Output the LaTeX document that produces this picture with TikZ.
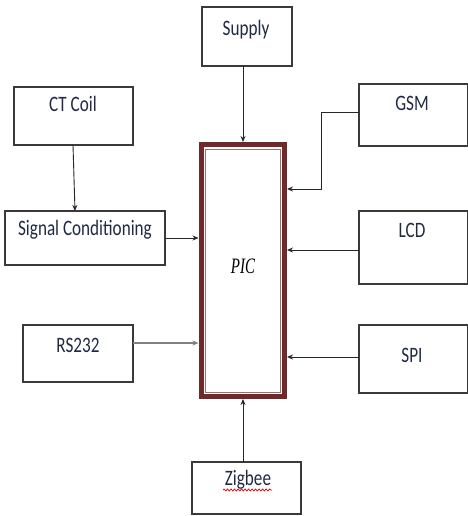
\documentclass[tikz,border=0pt]{standalone}
\usepackage{fontspec}
\setmainfont{Carlito}
\newfontfamily\picfont{Liberation Serif}
\usetikzlibrary{arrows.meta,decorations.pathmorphing}
\definecolor{boxline}{HTML}{3A3A3A}
\definecolor{txt}{HTML}{1F2A44}
\definecolor{picred}{HTML}{6E2A2A}
\definecolor{picthin}{HTML}{A86A6A}
\newcommand\lbl[1]{\scalebox{0.78}[1]{#1}}
\begin{document}
\begin{tikzpicture}[x=1pt,y=-1pt,
  blk/.style={draw=boxline,line width=1.2pt,fill=white},
  lab/.style={text=txt,font=\fontsize{22}{24}\selectfont,inner sep=0pt},
  arr/.style={-{Stealth[length=6pt,width=5pt]},line width=0.9pt,draw=black!85},
  garr/.style={-{Stealth[length=6pt,width=5pt]},line width=2pt,draw=black!50}]
\useasboundingbox (0,0) rectangle (467,516);
\fill[white] (0,0) rectangle (467,516);

% blocks
\draw[blk] (202,7) rectangle (292,66);
\node[lab] (supply) at (246,30) {\lbl{Supply}};
\coordinate (supplyb) at (243,66);

\draw[blk] (14,87) rectangle (133,145);
\node[lab] (ct) at (73,104) {\lbl{CT Coil}};
\coordinate (ctb) at (73,145);

\draw[blk] (5,211) rectangle (165,265);
\node[lab] (sc) at (85,230) {\lbl{Signal Conditioning}};
\coordinate (sct) at (75,211);
\coordinate (scr) at (165,238);

\draw[blk] (23,325) rectangle (133,382);
\node[lab] (rs) at (78,345) {\lbl{RS232}};
\coordinate (rsr) at (133,343);

\draw[blk] (359,84) rectangle (467.5,146);
\node[lab] (gsm) at (412,103) {\lbl{GSM}};
\coordinate (gsml) at (359,112);

\draw[blk] (359,211) rectangle (467.5,284);
\node[lab] (lcd) at (412,230) {\lbl{LCD}};
\coordinate (lcdl) at (359,250);

\draw[blk] (359,325) rectangle (467.5,393);
\node[lab] (spi) at (412,355) {\lbl{SPI}};
\coordinate (spil) at (359,357);

\draw[blk] (192,462) rectangle (301,514);
\node[lab] (zig) at (248,480) {\lbl{Zigbee}};
\coordinate (zigt) at (243,462);
\draw[red!85!black,line width=0.7pt,decorate,decoration={snake,amplitude=1pt,segment length=3.5pt}] (223,490) -- (272,490);

% PIC block
\draw[picred,line width=5pt,fill=white] (201,144.5) rectangle (284.5,396.5);
\draw[picthin,line width=1pt] (205.5,149) rectangle (280,392);
\node[text=black,font=\picfont\itshape\fontsize{22}{24}\selectfont,inner sep=0pt] (pic) at (243,266) {\scalebox{0.68}[1]{PIC}};
\coordinate (pict) at (243,142);
\coordinate (picb) at (243,399);
\coordinate (picl1) at (198.5,238);
\coordinate (picl2) at (198.5,343);
\coordinate (picr1) at (287,189);
\coordinate (picr2) at (287,250);
\coordinate (picr3) at (287,357);

% connectors
\draw[arr] (supplyb) -- (pict);
\draw[arr] (ctb) -- (sct);
\draw[arr] (scr) -- (picl1);
\draw[garr] (rsr) -- (picl2);
\draw[arr] (gsml) -- (321,112) -- (321,189) -- (picr1);
\draw[arr] (lcdl) -- (picr2);
\draw[arr] (spil) -- (picr3);
\draw[arr] (zigt) -- (picb);
\end{tikzpicture}
\end{document}
